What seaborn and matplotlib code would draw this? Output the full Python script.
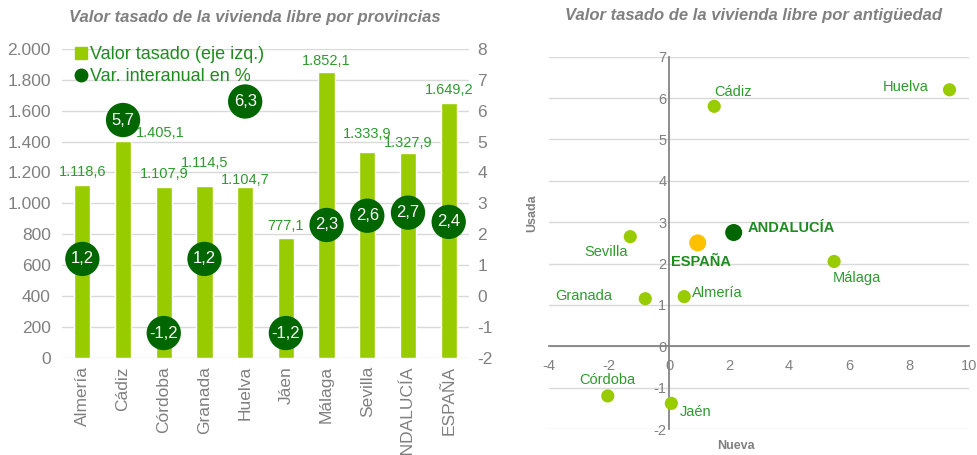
import numpy as np
import pandas as pd
import matplotlib
matplotlib.use("Agg")
import matplotlib.pyplot as plt
import seaborn as sns
from matplotlib.lines import Line2D

# ---------------- data ----------------
provincias = ["Almería", "Cádiz", "Córdoba", "Granada", "Huelva", "Jáen",
              "Málaga", "Sevilla", "ANDALUCÍA", "ESPAÑA"]
valor_tasado = [1118.6, 1405.1, 1107.9, 1114.5, 1104.7, 777.1,
                1852.1, 1333.9, 1327.9, 1649.2]
var_interanual = [1.2, 5.7, -1.2, 1.2, 6.3, -1.2, 2.3, 2.6, 2.7, 2.4]

scatter_names = ["Cádiz", "Huelva", "ANDALUCÍA", "ESPAÑA", "Sevilla",
                 "Málaga", "Granada", "Almería", "Córdoba", "Jaén"]
nueva = [1.5, 9.35, 2.15, 0.95, -1.3, 5.5, -0.8, 0.5, -2.05, 0.07]
usada = [5.8, 6.2, 2.75, 2.5, 2.65, 2.05, 1.15, 1.2, -1.2, -1.38]
scatter_group = ["prov", "prov", "and", "esp", "prov",
                 "prov", "prov", "prov", "prov", "prov"]

left_ticks = [0, 200, 400, 600, 800, 1000, 1200, 1400, 1600, 1800, 2000]
right_ticks = [-2, -1, 0, 1, 2, 3, 4, 5, 6, 7, 8]

# ---------------- style ----------------
sns.set_theme(style="white")
plt.rcParams["font.family"] = ["Liberation Sans", "DejaVu Sans"]
plt.rcParams["axes.unicode_minus"] = False

GREEN_BAR = "#99CC00"
DARK_GREEN = "#006600"
LABEL_GREEN = "#2E9A2E"
GRAY = "#808080"
GRID = "#D9D9D9"
ORANGE = "#FFC000"


def es_fmt(v, dec=1):
    s = f"{v:,.{dec}f}"
    return s.replace(",", "X").replace(".", ",").replace("X", ".")


fig = plt.figure(figsize=(9.78, 4.55), dpi=100)

# ================= left chart =================
ax = fig.add_axes([0.0634, 0.2138, 0.4162, 0.6785])
df = pd.DataFrame({"prov": provincias, "valor": valor_tasado, "var": var_interanual})
sns.barplot(data=df, x="prov", y="valor", color=GREEN_BAR, width=0.4,
            saturation=1, ax=ax, zorder=3)
ax.set_ylim(0, 2000)
ax.set_xlim(-0.5, len(provincias) - 0.5)
ax.set_yticks(left_ticks)
ax.set_yticklabels([es_fmt(t, 0) for t in left_ticks])
ax.yaxis.grid(True, color=GRID, linewidth=1, zorder=0)
ax.set_axisbelow(True)
for s in ax.spines.values():
    s.set_visible(False)
ax.set_xlabel("")
ax.set_ylabel("")
ax.tick_params(axis="y", colors=GRAY, labelsize=12.5, length=0, pad=8)
ax.tick_params(axis="x", colors=GRAY, labelsize=12.5, length=0, pad=6)
plt.setp(ax.get_xticklabels(), rotation=90)

label_offsets = [(0, 13), (37, 8), (0, 13), (0, 23), (0, 7), (0, 12),
                 (0, 11), (0, 18), (0, 10), (0, 13)]
for i, (v, off) in enumerate(zip(valor_tasado, label_offsets)):
    ax.annotate(es_fmt(v), (i, v), xytext=off, textcoords="offset pixels",
                ha="center", va="center", color=LABEL_GREEN, fontsize=10.5,
                zorder=6)

ax2 = ax.twinx()
sns.scatterplot(data=df, x=np.arange(len(provincias)), y="var", ax=ax2,
                color=DARK_GREEN, s=610, edgecolor="none", zorder=5,
                legend=False)
ax2.set_ylim(-2, 8)
ax2.set_yticks(right_ticks)
ax2.set_ylabel("")
for s in ax2.spines.values():
    s.set_visible(False)
ax2.tick_params(axis="y", colors=GRAY, labelsize=12.5, length=0, pad=6)
for i, v in enumerate(var_interanual):
    ax2.text(i, v, es_fmt(v), ha="center", va="center", color="white",
             fontsize=12, zorder=7)

handles = [
    Line2D([], [], marker="s", linestyle="none", color=GREEN_BAR, markersize=9),
    Line2D([], [], marker="o", linestyle="none", color=DARK_GREEN, markersize=9),
]
leg = ax.legend(handles, ["Valor tasado (eje izq.)", "Var. interanual en %"],
                loc="upper left", bbox_to_anchor=(0.0, 1.045), frameon=False,
                fontsize=13, handletextpad=0.05, labelspacing=0.3,
                handlelength=0.9, borderaxespad=0.2)
for t in leg.get_texts():
    t.set_color("#1E8C1E")

fig.text(0.261, 0.962, "Valor tasado de la vivienda libre por provincias",
         ha="center", va="center", fontsize=12, fontweight="bold",
         fontstyle="italic", color=GRAY)

# ================= right chart =================
bx = fig.add_axes([0.5617, 0.0571, 0.4291, 0.8183])
sdf = pd.DataFrame({"nueva": nueva, "usada": usada, "grupo": scatter_group,
                    "name": scatter_names})
sns.scatterplot(data=sdf, x="nueva", y="usada", hue="grupo",
                palette={"prov": GREEN_BAR, "and": DARK_GREEN, "esp": ORANGE},
                size="grupo", sizes={"prov": 90, "and": 150, "esp": 150},
                edgecolor="none", legend=False, ax=bx, zorder=5)
bx.set_xlim(-4, 10)
bx.set_ylim(-2, 7)
bx.set_xticks(range(-4, 11, 2))
bx.set_yticks(range(-2, 8))
bx.yaxis.grid(True, color=GRID, linewidth=1, zorder=0)
bx.xaxis.grid(False)
bx.spines["left"].set_position(("data", 0))
bx.spines["bottom"].set_position(("data", 0))
bx.spines["left"].set_color(GRAY)
bx.spines["bottom"].set_color(GRAY)
bx.spines["top"].set_visible(False)
bx.spines["right"].set_visible(False)
bx.tick_params(axis="both", colors=GRAY, labelsize=10.5, length=0)
bx.tick_params(axis="y", pad=2)
bx.tick_params(axis="x", pad=9)
bx.set_xlabel("")
bx.set_ylabel("")

scatter_offsets = {
    "Cádiz": (0, 14, "left"), "Huelva": (-21, 3, "right"),
    "ANDALUCÍA": (14, 5, "left"), "ESPAÑA": (-27, -19, "left"),
    "Sevilla": (-2, -15, "right"), "Málaga": (-1, -17, "left"),
    "Granada": (-33, 3, "right"), "Almería": (8, 4, "left"),
    "Córdoba": (0, 16, "center"), "Jaén": (8, -9, "left"),
}
for n, xv, yv, g in zip(scatter_names, nueva, usada, scatter_group):
    dx, dy, ha = scatter_offsets[n]
    bold = g != "prov"
    bx.annotate(n, (xv, yv), xytext=(dx, dy), textcoords="offset pixels",
                ha=ha, va="center", fontsize=10.5,
                fontweight="bold" if bold else "normal",
                color="#1E8C1E" if bold else LABEL_GREEN, zorder=6)

fig.text(0.5445, 0.532, "Usada", rotation=90, ha="center", va="center",
         fontsize=9, fontweight="bold", color=GRAY)
fig.text(0.7525, 0.020, "Nueva", ha="center", va="center",
         fontsize=9, fontweight="bold", color=GRAY)
fig.text(0.770, 0.966, "Valor tasado de la vivienda libre por antigüedad",
         ha="center", va="center", fontsize=12, fontweight="bold",
         fontstyle="italic", color=GRAY)

fig.savefig("out.png", dpi=100)
